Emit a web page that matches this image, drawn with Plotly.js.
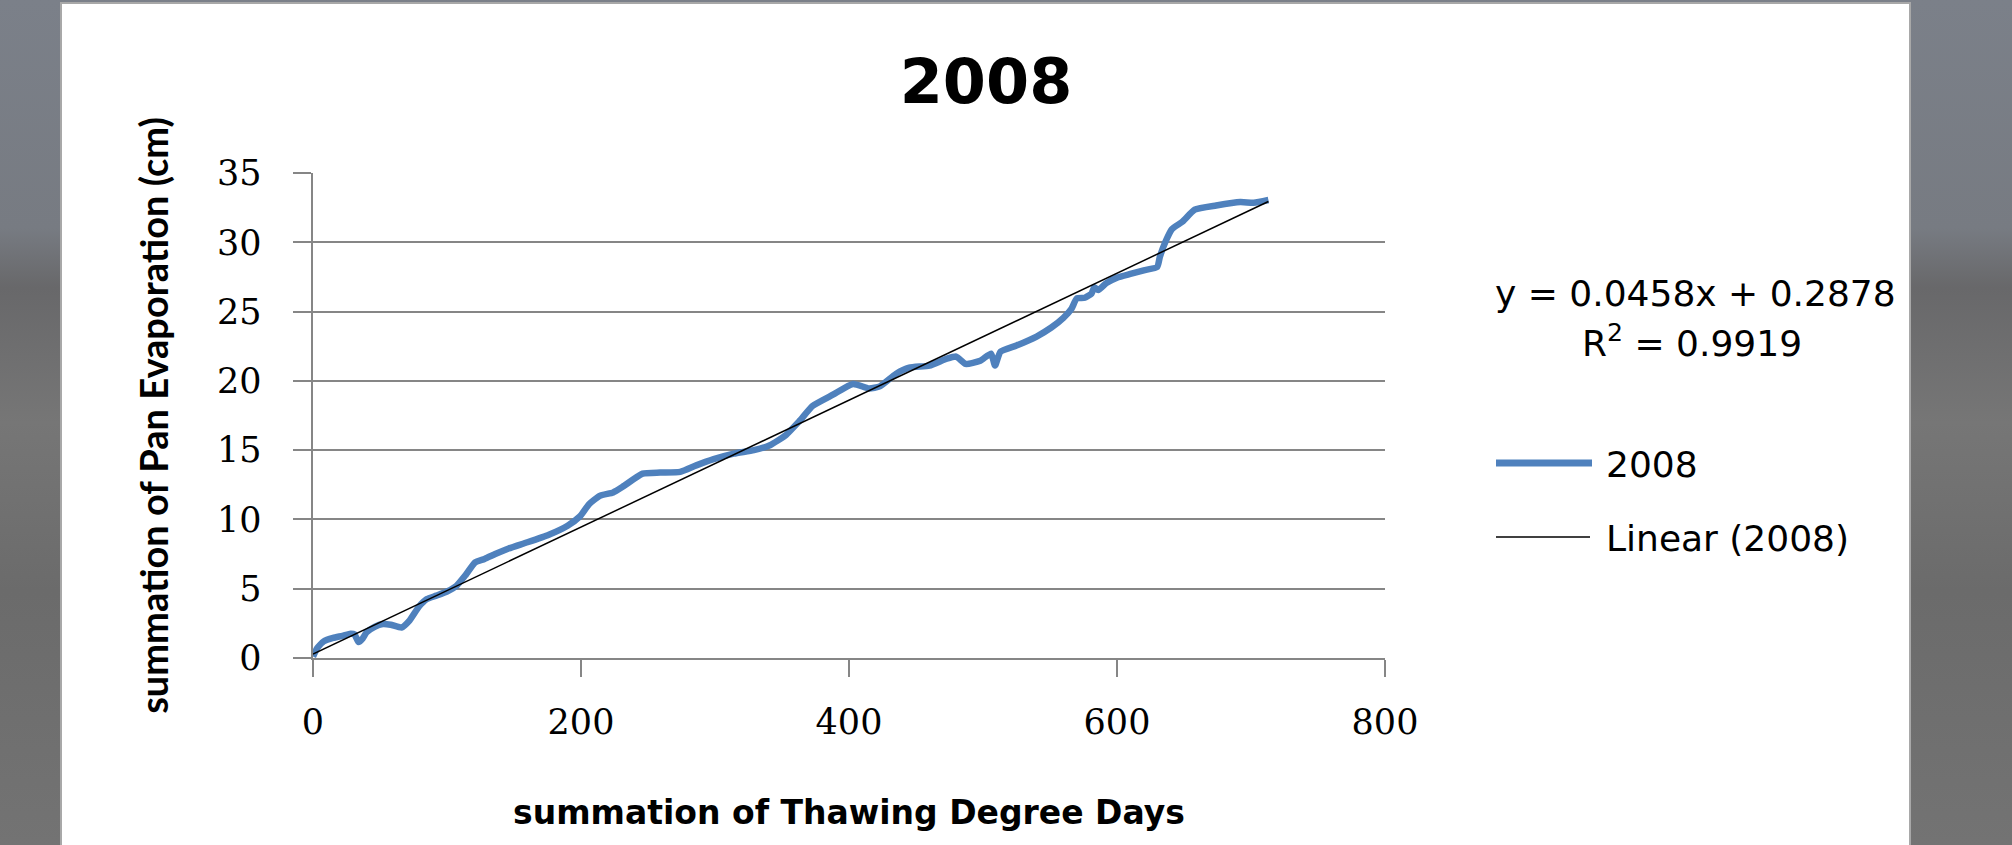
<!DOCTYPE html>
<html>
<head>
<meta charset="utf-8">
<script src="https://cdn.plot.ly/plotly-3.0.1.min.js"></script>
<style>
  html, body { margin: 0; padding: 0; }
  body {
    width: 2012px; height: 845px; overflow: hidden; position: relative;
    background: linear-gradient(to bottom, #7b8089 0%, #777b82 27%, #68686a 34%, #767676 50%, #6b6b6b 70%, #737373 100%);
  }
  #panel {
    position: absolute; left: 60px; top: 2px; width: 1847px; height: 845px;
    background: #ffffff; border: 2px solid #a8a8a8; border-bottom: none;
  }
  #chart { position: absolute; left: 0; top: 0; width: 2012px; height: 845px; }
</style>
</head>
<body>
<div id="panel"></div>
<div id="chart"></div>
<script>
// Cumulative thawing degree days (x) and cumulative pan evaporation in cm (y), 2008 season
const thawingDegreeDays = [
  0, 3, 8, 15, 22, 28, 31, 34, 37, 40, 46, 52, 58, 66, 72, 79, 85, 92, 100, 107,
  114, 121, 128, 136, 146, 160, 176, 190, 199, 206, 214, 224, 231, 246, 259, 274, 286, 299, 314, 329,
  341, 353, 363, 373, 388, 403, 415, 423, 435, 445, 460, 473, 480, 487, 498, 506, 509, 513, 525, 540,
  551, 560, 566, 570, 576, 581, 583, 586, 592, 600, 610, 620, 630, 632, 636, 641, 649, 658, 674, 692,
  702, 713
];
const panEvaporation = [
  0.1, 0.7, 1.2, 1.45, 1.6, 1.75, 1.7, 1.15, 1.4, 1.85, 2.25, 2.45, 2.4, 2.2, 2.7, 3.7, 4.25, 4.5, 4.8, 5.2,
  6.0, 6.9, 7.15, 7.5, 7.9, 8.35, 8.9, 9.55, 10.2, 11.1, 11.7, 11.95, 12.35, 13.3, 13.38, 13.43, 13.9, 14.35, 14.75, 15.0,
  15.35, 16.1, 17.1, 18.2, 19.0, 19.78, 19.45, 19.6, 20.5, 20.95, 21.1, 21.6, 21.75, 21.22, 21.45, 21.97, 21.1, 22.1, 22.55, 23.2,
  23.85, 24.55, 25.2, 25.95, 26.0, 26.3, 26.75, 26.55, 27.05, 27.45, 27.72, 27.98, 28.22, 28.95, 30.0, 30.95, 31.5, 32.35, 32.65, 32.9,
  32.85, 33.05
];

// Least-squares fit reported for the series
const trendSlope = 0.0458;
const trendIntercept = 0.2878;
const rSquared = 0.9919;

const seriesName = '2008';
const trendName = 'Linear (2008)';
const xTickValues = [0, 200, 400, 600, 800];
const yTickValues = [0, 5, 10, 15, 20, 25, 30, 35];

const seriesColor = '#4f81bd';
const axisGrey = '#868686';

// Plot area in page pixels
const M = { l: 313, r: 627, t: 173, b: 187 };
const W = 2012, H = 845;
const plotW = W - M.l - M.r, plotH = H - M.t - M.b;
const px = x => (x - M.l) / plotW;          // page x -> paper x
const py = y => (H - M.b - y) / plotH;      // page y -> paper y

const xMin = Math.min(...thawingDegreeDays);
const xMax = Math.max(...thawingDegreeDays);
const trendX = [xMin, xMax];
const trendY = trendX.map(x => trendSlope * x + trendIntercept);

const traces = [
  {
    type: 'scatter', mode: 'lines', name: seriesName,
    x: thawingDegreeDays, y: panEvaporation,
    line: { color: seriesColor, width: 6.5, shape: 'spline', smoothing: 0.5 },
    showlegend: false
  },
  {
    type: 'scatter', mode: 'lines', name: trendName,
    x: trendX, y: trendY,
    line: { color: '#000000', width: 1.5 },
    showlegend: false
  }
];

const textFont = { family: 'DejaVu Sans', size: 36, color: '#000000' };

const layout = {
  width: W, height: H,
  margin: M,
  paper_bgcolor: 'rgba(0,0,0,0)',
  plot_bgcolor: 'rgba(0,0,0,0)',
  showlegend: false,
  title: {
    text: seriesName,
    font: { family: 'DejaVu Sans', size: 62, weight: 700, color: '#000000' },
    xref: 'container', yref: 'container',
    x: 986 / W, xanchor: 'center',
    y: 1 - 81 / H, yanchor: 'middle'
  },
  xaxis: {
    range: [0, 800],
    tickvals: xTickValues,
    ticks: 'outside', ticklen: 17, tickwidth: 2, tickcolor: axisGrey,
    showline: true, linecolor: axisGrey, linewidth: 2,
    showgrid: false, zeroline: false,
    tickfont: { family: 'DejaVu Serif', size: 35, color: '#000000' },
    ticklabelstandoff: 15,
    title: {
      text: 'summation of Thawing Degree Days',
      font: { family: 'DejaVu Sans', size: 33, weight: 700, color: '#000000' },
      standoff: 60
    }
  },
  yaxis: {
    range: [0, 35],
    tickvals: yTickValues,
    ticks: 'outside', ticklen: 18, tickwidth: 2, tickcolor: axisGrey,
    showline: true, linecolor: axisGrey, linewidth: 2.5,
    showgrid: true, gridcolor: axisGrey, gridwidth: 2,
    zeroline: false,
    tickfont: { family: 'DejaVu Serif', size: 35, color: '#000000' },
    ticklabelstandoff: 24,
    title: {
      text: 'summation of Pan Evaporation (cm)',
      font: { family: 'Lato', size: 38, weight: 700, color: '#000000' },
      standoff: 37
    }
  },
  shapes: [
    // legend keys
    { type: 'line', xref: 'paper', yref: 'paper',
      x0: px(1496), x1: px(1592), y0: py(463), y1: py(463),
      line: { color: seriesColor, width: 7 } },
    { type: 'line', xref: 'paper', yref: 'paper',
      x0: px(1496), x1: px(1590), y0: py(537), y1: py(537),
      line: { color: '#000000', width: 1.5 } }
  ],
  annotations: [
    { xref: 'paper', yref: 'paper', x: px(1695), y: py(293), xanchor: 'center', yanchor: 'middle',
      text: 'y = ' + trendSlope.toFixed(4) + 'x + ' + trendIntercept.toFixed(4),
      showarrow: false, font: textFont },
    { xref: 'paper', yref: 'paper', x: px(1692), y: py(341), xanchor: 'center', yanchor: 'middle',
      text: 'R<sup>2</sup> = ' + rSquared.toFixed(4),
      showarrow: false, font: textFont },
    { xref: 'paper', yref: 'paper', x: px(1604), y: py(464), xanchor: 'left', yanchor: 'middle',
      text: seriesName, showarrow: false, font: textFont },
    { xref: 'paper', yref: 'paper', x: px(1604), y: py(538), xanchor: 'left', yanchor: 'middle',
      text: trendName, showarrow: false, font: textFont }
  ]
};

Plotly.newPlot('chart', traces, layout, { displayModeBar: false, staticPlot: true });
</script>
</body>
</html>
